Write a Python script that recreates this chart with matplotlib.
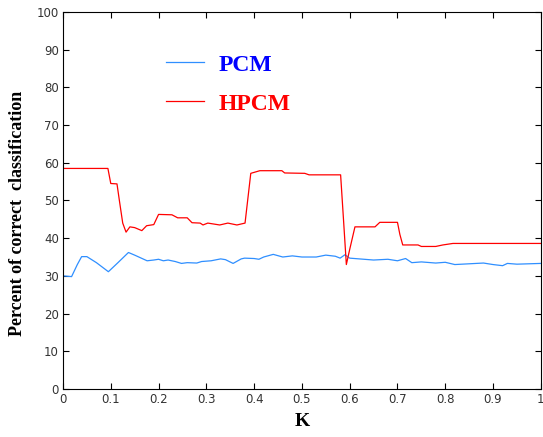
import matplotlib
matplotlib.use("Agg")
from matplotlib import pyplot as plt

# HPCM curve
k_hpcm = [0.0, 0.094, 0.100, 0.113, 0.118, 0.125, 0.132, 0.140, 0.150, 0.165,
          0.175, 0.190, 0.200, 0.228, 0.240, 0.260, 0.270, 0.287, 0.293, 0.303,
          0.328, 0.345, 0.364, 0.381, 0.393, 0.412, 0.458, 0.464, 0.506, 0.515,
          0.545, 0.581, 0.587, 0.593, 0.600, 0.611, 0.653, 0.663, 0.700, 0.705,
          0.711, 0.743, 0.750, 0.780, 0.795, 0.816, 1.0]
hpcm = [58.5, 58.5, 54.5, 54.4, 50.0, 44.0, 41.6, 43.0, 42.8, 42.0,
        43.3, 43.6, 46.3, 46.2, 45.4, 45.4, 44.1, 44.0, 43.5, 44.0,
        43.5, 44.0, 43.5, 44.0, 57.2, 57.9, 57.9, 57.3, 57.2, 56.8,
        56.8, 56.8, 45.0, 33.0, 37.0, 43.0, 43.0, 44.2, 44.2, 41.0,
        38.2, 38.2, 37.8, 37.8, 38.2, 38.6, 38.6]

# PCM curve
k_pcm = [0.0, 0.018, 0.03, 0.039, 0.05, 0.07, 0.095, 0.115, 0.137, 0.15,
         0.176, 0.19, 0.2, 0.21, 0.22, 0.235, 0.248, 0.26, 0.28, 0.29,
         0.31, 0.33, 0.34, 0.356, 0.373, 0.38, 0.40, 0.41, 0.42, 0.44,
         0.46, 0.48, 0.50, 0.53, 0.55, 0.57, 0.58, 0.59, 0.60, 0.62,
         0.65, 0.68, 0.70, 0.717, 0.73, 0.75, 0.78, 0.80, 0.82, 0.85,
         0.88, 0.90, 0.92, 0.93, 0.95, 1.0]
pcm = [30.0, 29.8, 33.0, 35.1, 35.1, 33.5, 31.1, 33.5, 36.2, 35.5,
       34.0, 34.2, 34.4, 34.0, 34.2, 33.8, 33.3, 33.5, 33.4, 33.8,
       34.0, 34.5, 34.3, 33.3, 34.5, 34.7, 34.6, 34.4, 35.0, 35.7,
       35.0, 35.3, 35.0, 35.0, 35.5, 35.2, 34.7, 35.6, 34.7, 34.5,
       34.2, 34.4, 34.0, 34.6, 33.5, 33.7, 33.4, 33.6, 33.0, 33.2,
       33.4, 33.0, 32.7, 33.3, 33.1, 33.3]

xticks = [0, 0.1, 0.2, 0.3, 0.4, 0.5, 0.6, 0.7, 0.8, 0.9, 1]
xticklabels = ['0', '0.1', '0.2', '0.3', '0.4', '0.5', '0.6', '0.7', '0.8', '0.9', '1']
yticks = list(range(0, 101, 10))

fig = plt.figure(figsize=(5.43, 4.37), dpi=100)
ax = fig.add_axes([0.116, 0.110, 0.880, 0.8625])

ax.plot(k_pcm, pcm, color='#2f8fff', lw=0.9, label='PCM')
ax.plot(k_hpcm, hpcm, color='#ff0000', lw=0.9, label='HPCM')

ax.set_xlim(0, 1)
ax.set_ylim(0, 100)
ax.set_xticks(xticks)
ax.set_xticklabels(xticklabels)
ax.set_yticks(yticks)
ax.tick_params(direction='in', top=True, right=True, labelsize=8.5, length=4, pad=3,
               labelcolor='#333333')
for s in ax.spines.values():
    s.set_linewidth(0.8)

ax.set_xlabel('K', fontfamily='Liberation Serif', fontweight='bold', fontsize=14, labelpad=5)
ax.set_ylabel('Percent of correct  classification', fontfamily='Liberation Serif',
              fontweight='bold', fontsize=13)
ax.yaxis.set_label_coords(-0.077, 0.465)

leg = ax.legend(loc='upper left', bbox_to_anchor=(0.172, 0.945), frameon=False,
                prop={'family': 'Liberation Serif', 'weight': 'bold', 'size': 17},
                handlelength=1.6, handletextpad=0.6, labelspacing=0.75,
                labelcolor=['#0000ff', '#ff0000'])

fig.savefig('out.png', dpi=100)
